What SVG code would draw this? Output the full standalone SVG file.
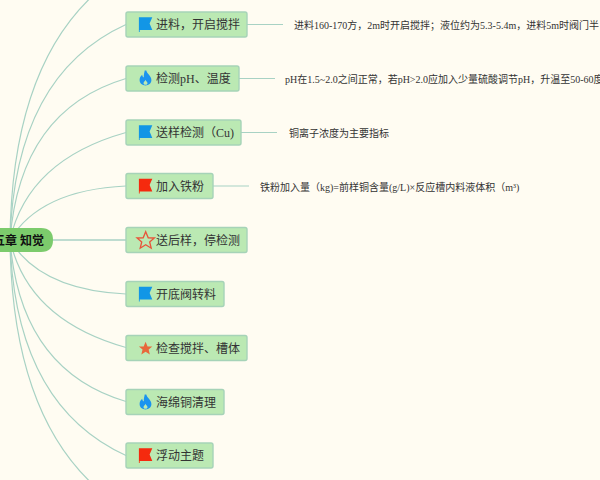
<svg xmlns="http://www.w3.org/2000/svg" width="600" height="480" viewBox="0 0 600 480">
<style>
text{font-family:"Liberation Serif","Noto Sans CJK SC",serif;fill:#333}
.n{fill:#bbe9b3;stroke:#a6d3b8;stroke-width:1.4}
.t{font-size:12px}
.d{font-size:10px}
.c{fill:none;stroke:#a8d2c4;stroke-width:1.2}
</style>
<defs>
<path id="flag" d="M-6.7-7.2H6.7L4-1 6.7 5.6H-5.9V7.6H-6.7Z"/>
<path id="flame" d="M.8-7.6C1.2-4.6 5.9-2.4 5.9 2 5.9 5.4 3.2 7.4 0 7.4S-5.9 5.4-5.9 2C-5.9-.4-4.6-2.2-3.3-3.2-3.2-1.8-2.6-.9-1.7-.5-1.9-3.4-1-6-.8-7.6ZM0 1.8C-.4 3.2-2 3.6-2 5.2-1.9 6.2-1 6.8 0 6.8S1.9 6.2 2 5.2C2 3.6 .4 3.2 0 1.8Z" fill-rule="evenodd"/>
<path id="star" d="M0-8 2.3-2.5 7.9-2.3 3.6 1.3 5 7 0 3.9-5 7-3.6 1.3-7.9-2.3-2.3-2.5Z"/>
</defs>
<rect width="600" height="480" fill="#fffcf2"/>
<g id="connectors">
<path class="c" d="M10 240Q12 40 126-29.5"/>
<path class="c" d="M10 240Q15 75 126 24.5"/>
<path class="c" d="M10 240Q20 110 126 78.5"/>
<path class="c" d="M10 240Q28 160 126 132.500"/>
<path class="c" d="M10 240Q40 190 126 186"/>
<path class="c" d="M53 240H126" style="stroke-width:1.5"/>
<path class="c" d="M10 240Q40 290 126 294"/>
<path class="c" d="M10 240Q28 320 126 347.500"/>
<path class="c" d="M10 240Q20 370 126 401.500"/>
<path class="c" d="M10 240Q15 405 126 455.500"/>
<path class="c" d="M10 240Q12 440 126 509.500"/>
<path class="c" d="M247 24.500H283"/>
<path class="c" d="M239 78.500H275"/>
<path class="c" d="M241 132.500H277"/>
<path class="c" d="M213 186H249"/>
</g>
<g id="root">
<path d="M-20 228H41Q53 228 53 240 53 252 41 252H-20Z" fill="#7ccb6c"/>
<text x="44" y="244.500" text-anchor="end" font-size="12" font-weight="700" style="fill:#111">第五章 知觉</text>
</g>
<g id="node1"><rect class="n" x="126" y="12" width="121" height="25" rx="2"/><use href="#flag" x="145.600" y="24.500" fill="#1296e6"/><text class="t" x="156" y="29">进料，开启搅拌</text></g>
<g id="detail1"><text class="d" x="294" y="28.500">进料160-170方，2m时开启搅拌；液位约为5.3-5.4m，进料5m时阀门半</text></g>
<g id="node2"><rect class="n" x="126" y="66" width="113" height="25" rx="2"/><use href="#flame" x="145.500" y="78" fill="#1a93ef"/><text class="t" x="156" y="83">检测pH、温度</text></g>
<g id="detail2"><text class="d" x="285" y="82.500">pH在1.5~2.0之间正常，若pH&gt;2.0应加入少量硫酸调节pH，升温至50-60度</text></g>
<g id="node3"><rect class="n" x="126" y="120" width="115" height="25" rx="2"/><use href="#flag" x="145.600" y="132.500" fill="#1296e6"/><text class="t" x="156" y="137">送样检测（Cu)</text></g>
<g id="detail3"><text class="d" x="289" y="136.500">铜离子浓度为主要指标</text></g>
<g id="node4"><rect class="n" x="126" y="173.500" width="87" height="25" rx="2"/><use href="#flag" x="145.600" y="186" fill="#f52a0e"/><text class="t" x="156" y="190.500">加入铁粉</text></g>
<g id="detail4"><text class="d" x="260" y="190.500">铁粉加入量（kg)=前样铜含量(g/L)×反应槽内料液体积（m³)</text></g>
<g id="node5"><rect class="n" x="126" y="227.500" width="121" height="25" rx="2"/><use href="#star" transform="translate(145.700 240.500) scale(1.1)" fill="none" stroke="#e8543a" stroke-width="1.2"/><text class="t" x="156" y="244.500">送后样，停检测</text></g>
<g id="node6"><rect class="n" x="126" y="281.500" width="98" height="25" rx="2"/><use href="#flag" x="145.600" y="294" fill="#1296e6"/><text class="t" x="156" y="298.500">开底阀转料</text></g>
<g id="node7"><rect class="n" x="126" y="335.500" width="121" height="25" rx="2"/><use href="#star" transform="translate(145.600 348.500) scale(.85)" fill="#e8683a"/><text class="t" x="156" y="352.500">检查搅拌、槽体</text></g>
<g id="node8"><rect class="n" x="126" y="389.500" width="98" height="25" rx="2"/><use href="#flame" x="145.500" y="402" fill="#1a93ef"/><text class="t" x="156" y="406.500">海绵铜清理</text></g>
<g id="node9"><rect class="n" x="126" y="443" width="87" height="25" rx="2"/><use href="#flag" x="145.600" y="455.500" fill="#f52a0e"/><text class="t" x="156" y="460">浮动主题</text></g>
</svg>
